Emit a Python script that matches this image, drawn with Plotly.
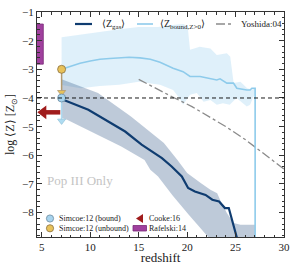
import plotly.graph_objects as go

# ---------------- data ----------------
# <Z_gas> mean line
zgas_z = [7.04, 7.4, 9.8, 11.5, 13.6, 15.3, 17.4, 18.4, 19.45, 20.1, 20.8, 21.9, 22.6, 23.3, 23.9, 24.3, 24.6, 25.1, 25.5]
zgas_v = [-4.05, -4.09, -4.41, -4.76, -5.17, -5.63, -6.1, -6.39, -6.74, -7.14, -7.26, -7.38, -7.55, -7.61, -7.84, -7.84, -8.25, -8.83, -9.3]
# <Z_gas> band edges
zgas_top_z = [7.04, 7.7, 10.8, 14.2, 17.6, 19.0, 20.0, 21.4, 22.4, 23.1, 23.4, 24.1, 24.8, 25.5, 27.02]
zgas_top_v = [-3.35, -3.43, -3.83, -4.65, -5.57, -6.16, -6.62, -6.97, -7.2, -7.32, -7.55, -8.01, -8.36, -8.42, -8.42]
zgas_bot_z = [7.04, 7.6, 9.8, 13.2, 15.6, 16.2, 17.0, 18.5, 20.1, 21.5, 22.3, 23.0, 27.02]
zgas_bot_v = [-4.7, -4.76, -5.11, -5.69, -6.16, -6.5, -6.74, -7.4, -8.05, -8.6, -8.9, -9.2, -10.5]

# <Z_bound, Z>0> mean line
zb_z = [7.04, 8.0, 8.94, 10.0, 11.0, 12.0, 13.07, 14.0, 15.14, 16.2, 17.2, 18.55, 19.58, 20.3, 21.34, 22.37, 23.06, 23.4, 24.1, 24.78, 25.13, 26.16, 26.5, 26.68, 27.02, 27.02]
zb_v = [-3.0, -2.88, -2.79, -2.71, -2.65, -2.62, -2.59, -2.58, -2.6, -2.65, -2.75, -2.96, -3.08, -3.25, -3.25, -3.31, -3.37, -3.33, -3.48, -3.48, -3.66, -3.72, -3.72, -3.66, -3.66, -12.0]
# band edges
zb_top_z = [7.04, 9.0, 11.0, 13.0, 15.0, 17.0, 18.5, 19.6, 20.05, 20.3, 21.3, 22.4, 23.06, 24.1, 24.45, 24.8, 25.5, 26.2, 26.7, 27.02]
zb_top_v = [-1.88, -1.78, -1.69, -1.6, -1.52, -1.52, -1.45, -1.42, -1.5, -2.32, -2.21, -2.27, -2.5, -2.44, -2.56, -3.48, -3.43, -3.66, -3.7, -3.66]
zb_bot_z = [7.04, 9.0, 11.0, 13.0, 15.0, 17.2, 18.55, 19.2, 19.58, 20.3, 21.0, 21.7, 22.4, 23.06, 23.7, 24.4, 25.1, 26.16, 26.5, 26.85, 27.02]
zb_bot_v = [-3.55, -3.66, -3.58, -3.54, -3.43, -3.54, -3.72, -4.0, -4.24, -3.89, -3.83, -4.13, -4.07, -4.24, -4.18, -4.24, -4.0, -4.3, -4.24, -3.95, -3.9]

# Yoshida:04
yosh_z = [15.0, 16.5, 18.4, 20.5, 22.0, 24.0, 26.0, 27.2, 29.0, 30.0]
yosh_v = [-3.35, -3.62, -3.95, -4.3, -4.6, -5.0, -5.45, -5.75, -6.22, -6.48]

# Simcoe:12
simcoe_z = [7.04]
simcoe_bound = [-4.0]
simcoe_bound_lim = [-4.8]
simcoe_unbound = [-3.0]
simcoe_unbound_lim = [-3.8]

# Cooke:16 (upper limit arrow in redshift)
cooke_z = [6.9, 5.15]
cooke_v = [-4.5, -4.5]

# Rafelski:14 box
raf_z = [4.0, 5.15]
raf_v = [-2.82, -1.42]

solar_thresh = -4.0

# ---------------- colours ----------------
NAVY = "#0f3c70"
NAVY_FILL = "rgba(40,80,130,0.30)"
LBLUE = "#8ecbeb"
LBLUE_FILL = "rgba(135,200,235,0.27)"
GREY = "#8a8a8a"
RED = "#a01c1c"
PURPLE = "#a0409e"
YEL = "#e8c25a"
TAN = "#b39a70"
FONT = "Liberation Serif"

fig = go.Figure()

# light band
fig.add_trace(go.Scatter(x=zb_top_z + zb_bot_z[::-1], y=zb_top_v + zb_bot_v[::-1],
                         fill="toself", fillcolor=LBLUE_FILL, line=dict(width=0),
                         mode="lines", hoverinfo="skip", showlegend=False))
# dark band
fig.add_trace(go.Scatter(x=zgas_top_z + zgas_bot_z[::-1], y=zgas_top_v + zgas_bot_v[::-1],
                         fill="toself", fillcolor=NAVY_FILL, line=dict(width=0),
                         mode="lines", hoverinfo="skip", showlegend=False))
# Rafelski box
fig.add_trace(go.Scatter(x=[raf_z[0], raf_z[1], raf_z[1], raf_z[0], raf_z[0]],
                         y=[raf_v[0], raf_v[0], raf_v[1], raf_v[1], raf_v[0]],
                         fill="toself", fillcolor=PURPLE, line=dict(color="#7a2a78", width=0.8),
                         mode="lines", showlegend=False))
# Yoshida
fig.add_trace(go.Scatter(x=yosh_z, y=yosh_v, mode="lines",
                         line=dict(color=GREY, width=1.3, dash="dashdot"), showlegend=False))
# lines
fig.add_trace(go.Scatter(x=zb_z, y=zb_v, mode="lines", line=dict(color=LBLUE, width=1.6), showlegend=False))
fig.add_trace(go.Scatter(x=zgas_z, y=zgas_v, mode="lines", line=dict(color=NAVY, width=2.2), showlegend=False))

# Simcoe error bars
fig.add_trace(go.Scatter(x=simcoe_z * 2, y=simcoe_unbound + simcoe_unbound_lim, mode="lines",
                         line=dict(color=TAN, width=1.5), showlegend=False))
fig.add_trace(go.Scatter(x=simcoe_z, y=simcoe_unbound_lim, mode="markers",
                         marker=dict(symbol="triangle-down", size=7, color=YEL, line=dict(color=TAN, width=0.8)),
                         showlegend=False))
fig.add_trace(go.Scatter(x=simcoe_z * 2, y=simcoe_bound + simcoe_bound_lim, mode="lines",
                         line=dict(color="#aedcf2", width=1.5), showlegend=False))
fig.add_trace(go.Scatter(x=simcoe_z, y=simcoe_bound_lim, mode="markers",
                         marker=dict(symbol="triangle-down", size=7, color="#aedcf2", line=dict(color="#9cc8dc", width=0.8)),
                         showlegend=False))
fig.add_trace(go.Scatter(x=simcoe_z, y=simcoe_unbound, mode="markers",
                         marker=dict(symbol="circle", size=8, color=YEL, line=dict(color="#8a7040", width=0.8)),
                         showlegend=False))
fig.add_trace(go.Scatter(x=simcoe_z, y=simcoe_bound, mode="markers",
                         marker=dict(symbol="circle", size=8, color="#a8d4ee", line=dict(color="#6a8aa0", width=0.8)),
                         showlegend=False))
# Cooke arrow
fig.add_trace(go.Scatter(x=cooke_z, y=cooke_v, mode="lines", line=dict(color=RED, width=4.5), showlegend=False))
fig.add_trace(go.Scatter(x=cooke_z[1:], y=cooke_v[1:], mode="markers",
                         marker=dict(symbol="triangle-left", size=12, color=RED), showlegend=False))

# threshold
fig.add_shape(type="line", xref="paper", yref="y", x0=0, x1=1, y0=solar_thresh, y1=solar_thresh,
              line=dict(color="black", width=0.9, dash="4px,3px"))

# ---------- manual legends (paper coords) ----------
def px2x(px):
    return (px - 37) / 247.0

def py2y(py):
    return (237 - py) / 225.0

ly = py2y(24)
fig.add_shape(type="line", xref="paper", yref="paper", x0=px2x(75), x1=px2x(92), y0=ly, y1=ly,
              line=dict(color=NAVY, width=2.2))
fig.add_shape(type="line", xref="paper", yref="paper", x0=px2x(137), x1=px2x(153), y0=ly, y1=ly,
              line=dict(color=LBLUE, width=1.6))
fig.add_shape(type="line", xref="paper", yref="paper", x0=px2x(216), x1=px2x(233), y0=ly, y1=ly,
              line=dict(color=GREY, width=1.3, dash="dashdot"))
ann = []
ann.append(dict(x=px2x(100), y=ly, text="⟨Z<sub>gas</sub>⟩", size=10))
ann.append(dict(x=px2x(158), y=ly, text="⟨Z<sub>bound,Z>0</sub>⟩", size=10))
ann.append(dict(x=px2x(239), y=ly, text="Yoshida:04", size=9))

l1 = py2y(218.5)
l2 = py2y(228.3)
rx = 3.6 / 247.0
ry = 3.6 / 225.0
fig.add_shape(type="circle", xref="paper", yref="paper", x0=px2x(50) - rx, x1=px2x(50) + rx,
              y0=l1 - ry, y1=l1 + ry, fillcolor="#a8d4ee", line=dict(color="#6a8aa0", width=0.8))
fig.add_shape(type="circle", xref="paper", yref="paper", x0=px2x(50) - rx, x1=px2x(50) + rx,
              y0=l2 - ry, y1=l2 + ry, fillcolor=YEL, line=dict(color="#8a7040", width=0.8))
fig.add_shape(type="path", xref="paper", yref="paper",
              path=f"M {px2x(136)} {l1} L {px2x(143)} {py2y(214)} L {px2x(143)} {py2y(223)} Z",
              fillcolor=RED, line=dict(width=0))
fig.add_shape(type="rect", xref="paper", yref="paper", x0=px2x(133), x1=px2x(146.5),
              y0=py2y(231), y1=py2y(225.5), fillcolor=PURPLE, line=dict(color="#7a2a78", width=0.8))
ann.append(dict(x=px2x(57), y=l1, text="Simcoe:12 (bound)", size=8))
ann.append(dict(x=px2x(57), y=l2, text="Simcoe:12 (unbound)", size=8))
ann.append(dict(x=px2x(147), y=l1, text="Cooke:16", size=8))
ann.append(dict(x=px2x(147), y=l2, text="Rafelski:14", size=8))

for a in ann:
    fig.add_annotation(x=a["x"], y=a["y"], xref="paper", yref="paper", text=a["text"],
                       showarrow=False, xanchor="left", yanchor="middle",
                       font=dict(family=FONT, size=a["size"], color="#222"))

fig.add_annotation(x=8.9, y=-6.88, xref="x", yref="y", text="Pop III Only", showarrow=False,
                   font=dict(family=FONT, size=13, color="#c4c4c4"))

axis_common = dict(showgrid=False, zeroline=False, showline=True, linecolor="#333", linewidth=1,
                   mirror="allticks", ticks="inside", ticklen=5, tickwidth=0.8, tickcolor="#333",
                   automargin=False,
                   tickfont=dict(family=FONT, size=11, color="#222"))
fig.update_xaxes(range=[4.5, 30], dtick=5, tick0=0,
                 minor=dict(dtick=1, ticks="inside", ticklen=2.5, tickcolor="#333", tickwidth=0.6),
                 title=dict(text="redshift", font=dict(family=FONT, size=13, color="#222"), standoff=2),
                 **axis_common)
fig.update_yaxes(range=[-8.85, -1], dtick=1, tick0=0,
                 minor=dict(dtick=0.2, ticks="inside", ticklen=2.5, tickcolor="#333", tickwidth=0.6),
                 title=dict(text="log ⟨Z⟩ [Z<sub>⊙</sub>]", font=dict(family=FONT, size=12, color="#222"), standoff=4),
                 **axis_common)

fig.update_layout(width=300, height=265, margin=dict(l=37, r=16, t=12, b=28),
                  plot_bgcolor="white", paper_bgcolor="white", showlegend=False)

fig.write_html("out.html", config={"displayModeBar": False},
               post_script="document.body.style.margin='0';")
